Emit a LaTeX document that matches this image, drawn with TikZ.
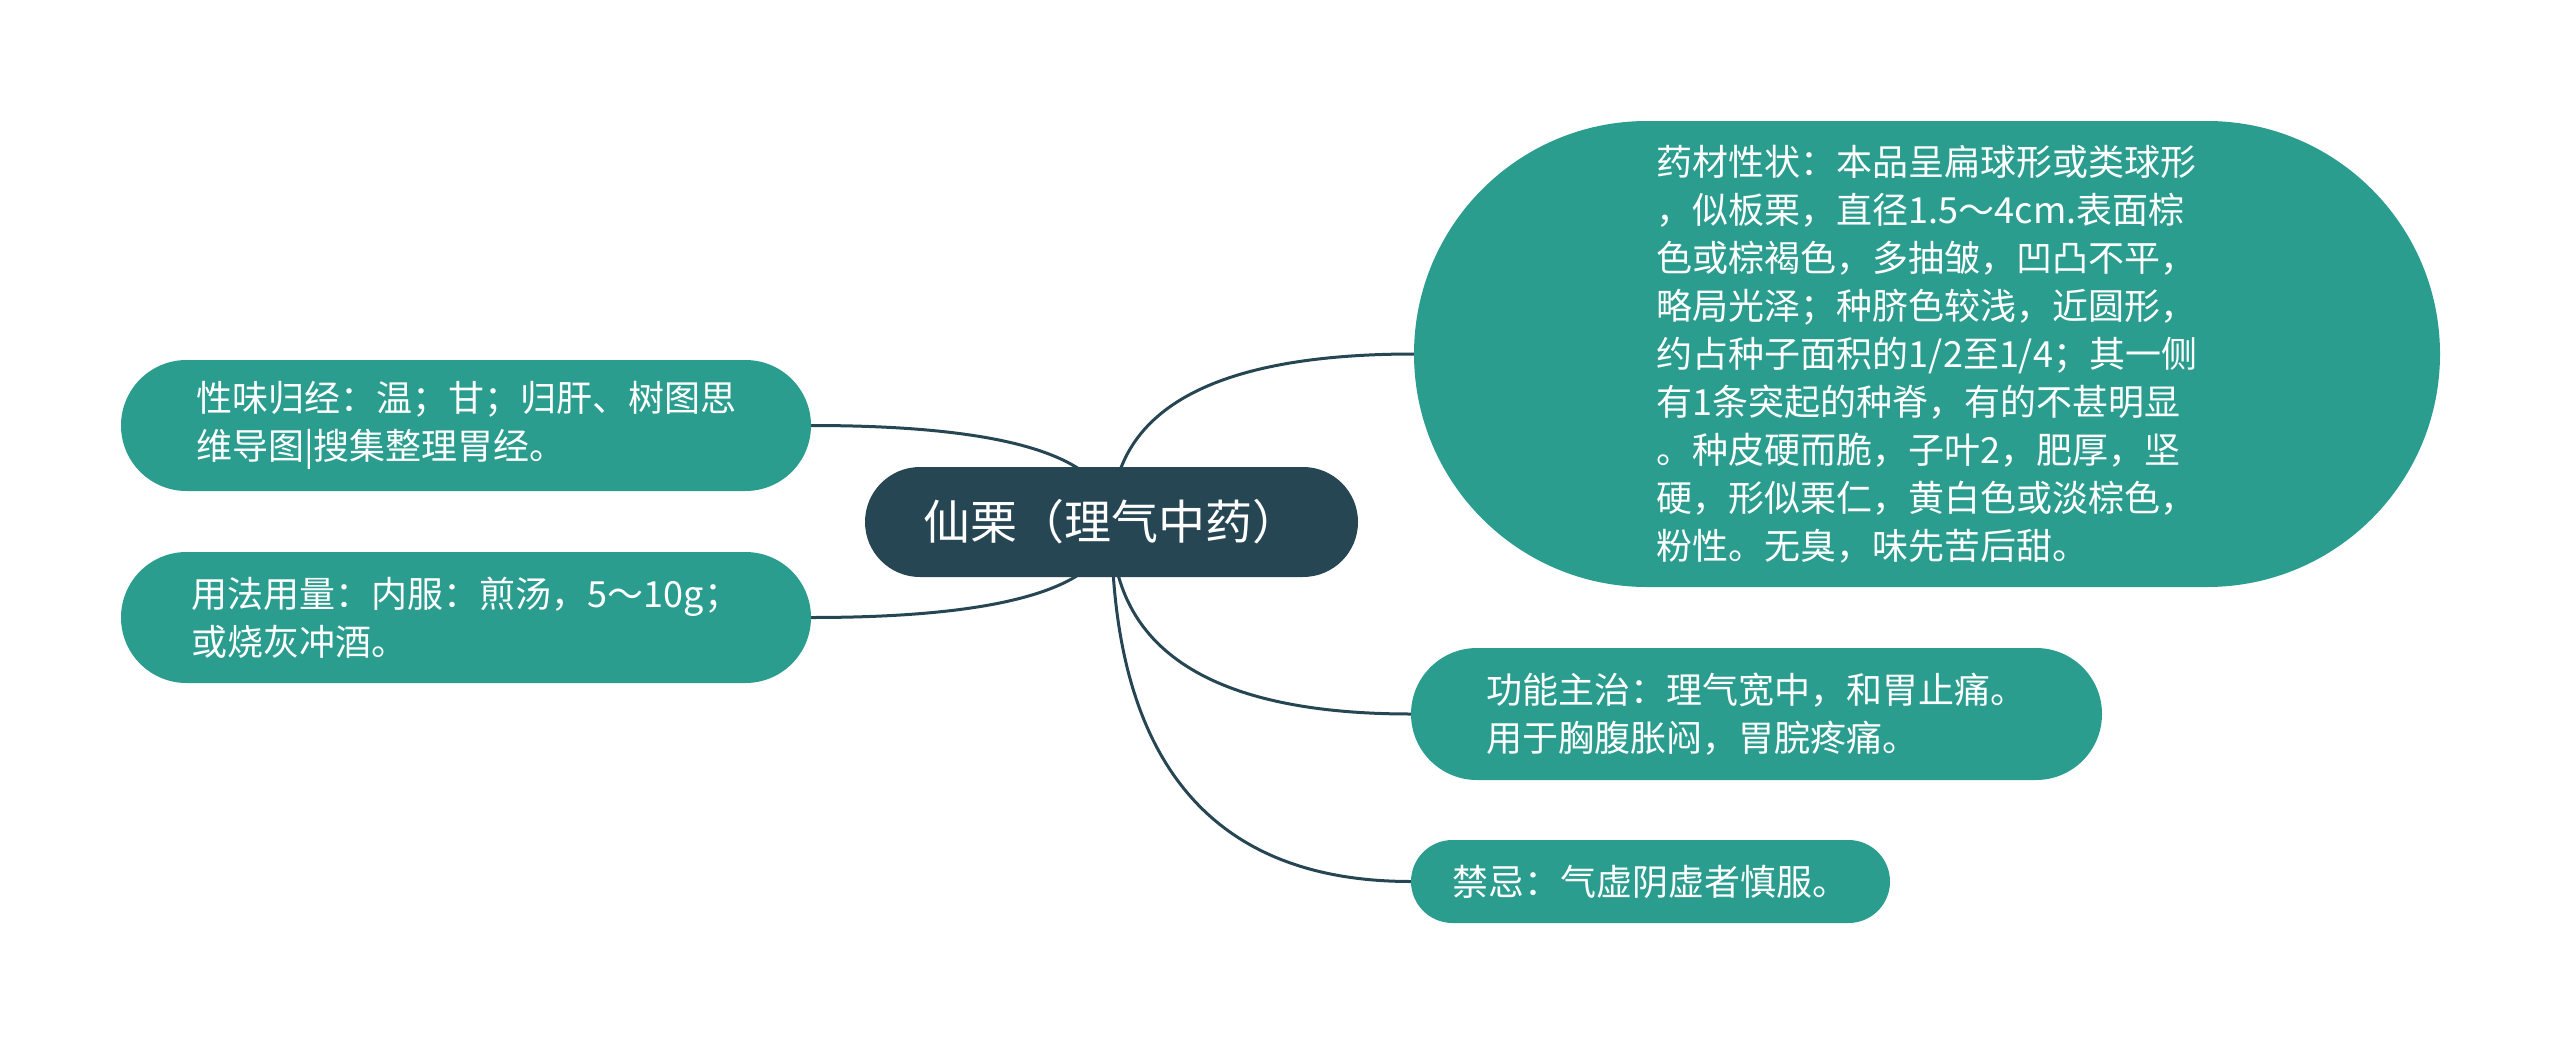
\documentclass[tikz,border=0pt]{standalone}
\usepackage{fontspec}
\setmainfont{Noto Sans CJK SC}
\usetikzlibrary{calc,backgrounds}
\definecolor{mmTeal}{HTML}{2A9D8F}
\definecolor{mmDark}{HTML}{264653}
\begin{document}
\begin{tikzpicture}[x=1pt,y=-1pt,
  box/.style={fill=mmTeal, text=white, inner sep=0pt, align=left,
    font=\fontsize{36}{48}\selectfont},
  rootbox/.style={fill=mmDark, text=white, inner sep=0pt, align=center,
    font=\fontsize{47}{56}\selectfont},
  link/.style={draw=mmDark, line width=3pt}]
\useasboundingbox (0,0) rectangle (2560,1044);

\node[rootbox, minimum width=493pt, minimum height=110pt, rounded corners=55pt] (root) at (1111.5,522) {仙栗（理气中药）};

\node[box, minimum width=690pt, minimum height=131pt, rounded corners=65.5pt] (l1) at (466,425.5)
  {性味归经：温；甘；归肝、树图思\\维导图|搜集整理胃经。};
\node[box, minimum width=690pt, minimum height=131pt, rounded corners=65.5pt] (l2) at (466,617.5)
  {用法用量：内服：煎汤，5～10g；\\或烧灰冲酒。};

\node[box, minimum width=1026pt, minimum height=466pt, rounded corners=233pt] (r1) at (1927,354)
  {药材性状：本品呈扁球形或类球形\\，似板栗，直径1.5～4cm.表面棕\\色或棕褐色，多抽皱，凹凸不平，\\略局光泽；种脐色较浅，近圆形，\\约占种子面积的1/2至1/4；其一侧\\有1条突起的种脊，有的不甚明显\\。种皮硬而脆，子叶2，肥厚，坚\\硬，形似栗仁，黄白色或淡棕色，\\粉性。无臭，味先苦后甜。};
\node[box, minimum width=691pt, minimum height=132pt, rounded corners=66pt] (r2) at (1756.5,714)
  {功能主治：理气宽中，和胃止痛。\\用于胸腹胀闷，胃脘疼痛。};
\node[box, minimum width=479pt, minimum height=83pt, rounded corners=41.5pt] (r3) at (1650.5,881.5)
  {禁忌：气虚阴虚者慎服。};

\begin{scope}[on background layer]
\coordinate (k1) at (root.center |- l1.east);
\coordinate (k2) at (root.center |- l2.east);
\coordinate (k3) at (root.center |- r1.west);
\coordinate (k4) at (root.center |- r2.west);
\coordinate (k5) at (root.center |- r3.west);
\draw[link] (root.center) .. controls ($(root.center)!0.6667!(k1)$) and ($(l1.east)!0.6667!(k1)$) .. (l1.east);
\draw[link] (root.center) .. controls ($(root.center)!0.6667!(k2)$) and ($(l2.east)!0.6667!(k2)$) .. (l2.east);
\draw[link] (root.center) .. controls ($(root.center)!0.6667!(k3)$) and ($(r1.west)!0.6667!(k3)$) .. (r1.west);
\draw[link] (root.center) .. controls ($(root.center)!0.6667!(k4)$) and ($(r2.west)!0.6667!(k4)$) .. (r2.west);
\draw[link] (root.center) .. controls ($(root.center)!0.6667!(k5)$) and ($(r3.west)!0.6667!(k5)$) .. (r3.west);
\end{scope}
\end{tikzpicture}
\end{document}
